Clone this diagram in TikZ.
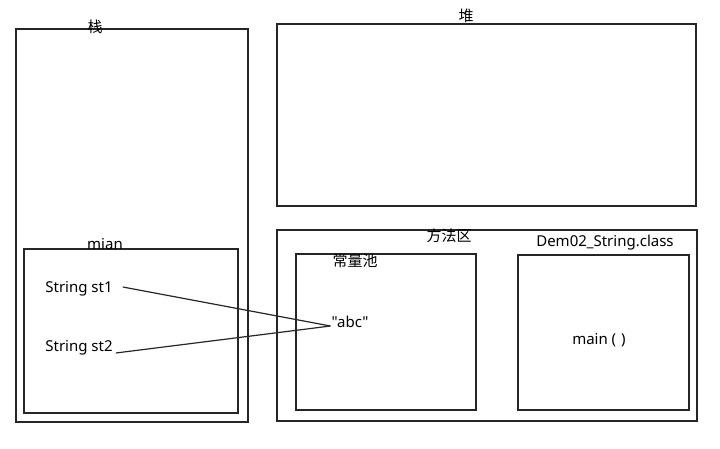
\documentclass[tikz,border=0pt]{standalone}
\usepackage{fontspec}
\newfontfamily\latinfont{Noto Sans}
\newfontfamily\cjk{Noto Sans CJK SC}
\usetikzlibrary{positioning}

\begin{document}
\begin{tikzpicture}[x=1pt,y=-1pt,frame/.style={draw=black!85,line width=1.3pt,inner sep=0pt},lbl/.style={font=\latinfont\fontsize{15}{17}\selectfont,inner sep=2pt},zh/.style={font=\cjk\fontsize{15}{17}\selectfont,inner sep=2pt},link/.style={line width=1.2pt,black!85}]
\useasboundingbox (0,0) rectangle (720,448);
% outer regions
\node[frame,minimum width=232pt,minimum height=393pt] (stack) at (132,225.5) {};
\node[frame,minimum width=419pt,minimum height=182pt] (heap) at (486.5,115) {};
\node[frame,minimum width=420pt,minimum height=191pt] (method) at (487,325.5) {};
% inner regions
\node[frame,minimum width=214pt,minimum height=164pt] (mian) at (131,331) {};
\node[frame,minimum width=180pt,minimum height=156pt] (pool) at (386,332) {};
\node[frame,minimum width=171pt,minimum height=155pt] (cls) at (603.5,332.5) {};
% titles
\node[zh] (stacklbl) at (95,27) {栈};
\node[zh] (heaplbl) at (466,16) {堆};
\node[zh] (methodlbl) at (449,236) {方法区};
\node[lbl] (mianlbl) at (105,244) {mian};
\node[zh] (poollbl) at (355,261) {常量池};
\node[lbl] (clslbl) at (605,243) {Dem02\_String.class};
% contents
\node[lbl] (st1) at (79,289) {String st1};
\node[lbl] (st2) at (79,348) {String st2};
\node[lbl] (abc) at (350,322) {"abc"};
\node[lbl] (mainm) at (599,340) {main (\,\,)};
\draw[link] ([xshift=8pt,yshift=2pt]st1.east) -- ([xshift=1pt,yshift=-4pt]abc.west);
\draw[link] ([xshift=1pt,yshift=-5pt]st2.east) -- ([xshift=1pt,yshift=-4pt]abc.west);
\end{tikzpicture}
\end{document}
